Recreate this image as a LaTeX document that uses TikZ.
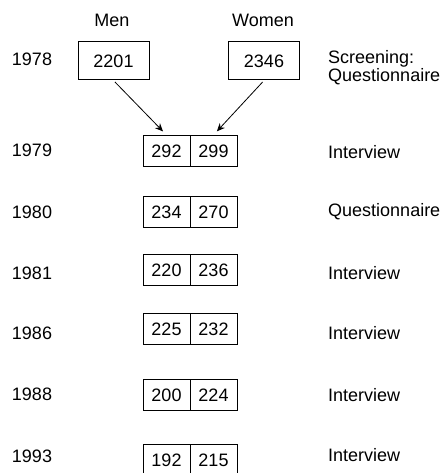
\documentclass[tikz,border=0pt]{standalone}
\usepackage{fontspec}
\setmainfont{Liberation Sans}
\usetikzlibrary{positioning}
\usetikzlibrary{arrows.meta}

\begin{document}
\begin{tikzpicture}[x=1pt,y=-1pt,
        every node/.style={font=\fontsize{18}{15.5}\selectfont},
        bigbox/.style={draw,rectangle,line width=1pt,minimum width=71pt,minimum height=38pt,inner sep=0pt},
        cell/.style={draw,rectangle,line width=1pt,minimum width=47pt,minimum height=31pt,inner sep=0pt},
        yearlabel/.style={inner sep=0pt},
        modelabel/.style={anchor=west,inner sep=0pt,align=left},
        flow/.style={-{Stealth[length=8pt,width=7pt]},line width=0.8pt,shorten <=2pt,shorten >=5pt}]
        \useasboundingbox (0,0) rectangle (444,473);
        % column heads
        \node[inner sep=0pt] (men) at (112,20) {Men};
        \node[inner sep=0pt] (women) at (263,20) {Women};
        % 1978 screening
        \node[yearlabel] (y78) at (32,59) {1978};
        \node[bigbox] (m78) at (113.5,61) {2201};
        \node[bigbox] (w78) at (264,61) {2346};
        \node[modelabel,anchor=north west] (s78) at (328,50) {Screening:\\Questionnaire};
        % follow-ups
        \node[yearlabel] (y79) at (32,150) {1979};
        \node[cell] (m79) at (166.5,151) {292};
        \node[cell] (w79) at (213.5,151) {299};
        \node[modelabel] (s79) at (328,152) {Interview};
        \node[yearlabel] (y80) at (32,212) {1980};
        \node[cell] (m80) at (166.5,212) {234};
        \node[cell] (w80) at (213.5,212) {270};
        \node[modelabel] (s80) at (328,212) {Questionnaire};
        \node[yearlabel] (y81) at (32,273) {1981};
        \node[cell] (m81) at (166.5,270) {220};
        \node[cell] (w81) at (213.5,270) {236};
        \node[modelabel] (s81) at (328,273) {Interview};
        \node[yearlabel] (y86) at (32,333) {1986};
        \node[cell] (m86) at (166.5,329) {225};
        \node[cell] (w86) at (213.5,329) {232};
        \node[modelabel] (s86) at (328,333) {Interview};
        \node[yearlabel] (y88) at (32,394) {1988};
        \node[cell] (m88) at (166.5,395) {200};
        \node[cell] (w88) at (213.5,395) {224};
        \node[modelabel] (s88) at (328,395) {Interview};
        \node[yearlabel] (y93) at (32,456) {1993};
        \node[cell] (m93) at (166.5,460) {192};
        \node[cell] (w93) at (213.5,460) {215};
        \node[modelabel] (s93) at (328,455) {Interview};
        % arrows
        \draw[flow] (m78.south) -- (m79.north);
        \draw[flow] (w78.south) -- (w79.north);
    \end{tikzpicture}
\end{document}
